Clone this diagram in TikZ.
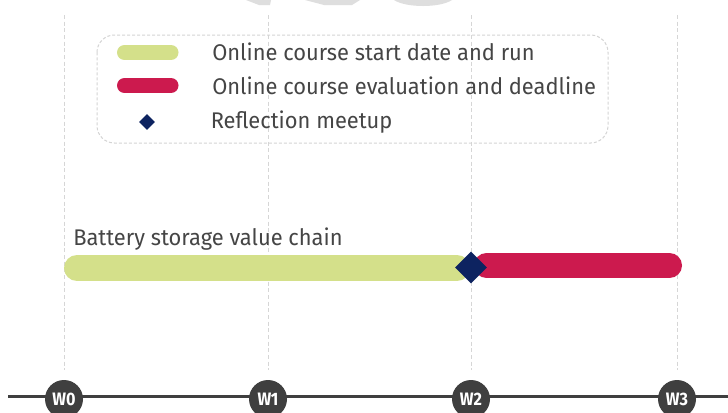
\documentclass[tikz,border=0pt]{standalone}
\usepackage{fontspec}
\setmainfont{Fira Sans}[FakeStretch=0.965]
\newfontfamily\weekfont{Fira Sans}[FakeStretch=0.9]
\usetikzlibrary{shapes.geometric}

\definecolor{rungreen}{HTML}{D4E08A}
\definecolor{evalred}{HTML}{CC1A4E}
\definecolor{meetnavy}{HTML}{0D2360}
\definecolor{txtgray}{HTML}{454545}
\definecolor{axisgray}{HTML}{3F3F3F}
\definecolor{gridgray}{HTML}{D6D6D6}
\definecolor{boxgray}{HTML}{D4D4D4}
\definecolor{markgray}{HTML}{DEDEDE}

\begin{document}
\begin{tikzpicture}[x=0.75pt,y=-0.75pt,
  gridline/.style={draw=gridgray, line width=0.75pt, dash pattern=on 3pt off 2pt},
  legendbox/.style={draw=boxgray, line width=0.75pt, dash pattern=on 2.25pt off 1.5pt, rounded corners=13pt},
  label/.style={text=txtgray, font=\fontsize{17}{20}\selectfont, inner sep=0pt, anchor=base west},
  week/.style={circle, fill=axisgray, minimum size=28.5pt, inner sep=0pt, text=white,
    font=\weekfont\fontsize{13.5}{14}\selectfont\bfseries},
  meetup/.style={diamond, fill=meetnavy, inner sep=0pt, minimum width=24pt, minimum height=24pt},
  legmeet/.style={diamond, fill=meetnavy, inner sep=0pt, minimum width=12pt, minimum height=12pt},
  runbar/.style={draw=rungreen, line width=19.5pt, line cap=round},
  evalbar/.style={draw=evalred, line width=18.75pt, line cap=round},
  legrun/.style={draw=rungreen, line width=11.25pt, line cap=round},
  legeval/.style={draw=evalred, line width=11.25pt, line cap=round},
  axis/.style={draw=axisgray, line width=2.25pt}]

\useasboundingbox (0,0) rectangle (728,412);
\fill[white] (0,0) rectangle (728,412);

% faint shapes along the top edge
\fill[markgray] (246,0) -- (271,0) -- (270,5) -- (259,5) -- cycle;
\fill[markgray] (305,0) -- (360,0) -- (352,5) -- (324,5) -- cycle;
\fill[markgray] (394,0) .. controls (406,8) and (440,8) .. (452,0) -- cycle;

% week markers on the time axis
\coordinate (axstart) at (8,396);
\coordinate (axend) at (728,396);
\draw[axis] (axstart) -- (axend);
\node[week] (w0) at (64,399) {W0};
\node[week] (w1) at (268,399) {W1};
\node[week] (w2) at (471,399) {W2};
\node[week] (w3) at (677,399) {W3};

% vertical guides
\coordinate (gtop) at (0,15);
\coordinate (gbot) at (0,370);
\foreach \w in {w0,w1,w2,w3}
  \draw[gridline] (\w |- gtop) -- (\w |- gbot);

% legend
\draw[legendbox] (97,35) rectangle (608,143);
\coordinate (l1a) at (124.5,52.5);
\coordinate (l1b) at (171,52.5);
\coordinate (l2a) at (124.5,85.5);
\coordinate (l2b) at (171,85.5);
\draw[legrun] (l1a) -- (l1b);
\draw[legeval] (l2a) -- (l2b);
\node[legmeet] (lm) at (147,122) {};
\node[label] (t1) at (212,60) {Online course start date and run};
\node[label] (t2) at (212,94) {Online course evaluation and deadline};
\node[label] (t3) at (210.5,128) {Reflection meetup};

% course timeline
\node[label] (title) at (73,245) {Battery storage value chain};
\coordinate (runa) at (77,268);
\coordinate (runb) at (457,268);
\coordinate (evala) at (486.5,265.5);
\coordinate (evalb) at (669.5,265.5);
\draw[runbar] (runa) -- (runb);
\draw[evalbar] (evala) -- (evalb);
\node[meetup] (meet) at (471,267.5) {};

\end{tikzpicture}
\end{document}
